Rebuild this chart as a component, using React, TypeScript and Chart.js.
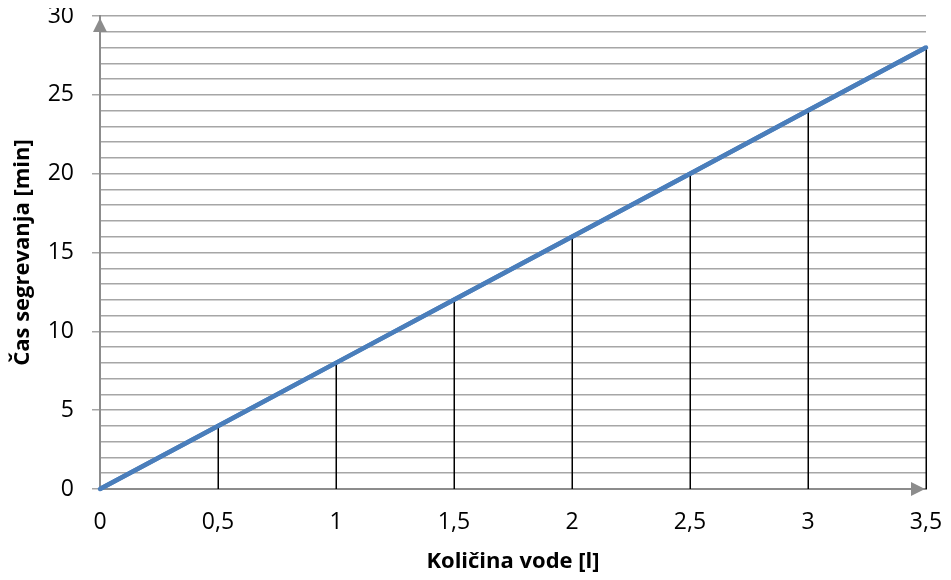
import React, { useEffect, useRef } from "react";
import { Chart, registerables } from "chart.js";

Chart.register(...registerables);

const waterLitres = [0, 0.5, 1, 1.5, 2, 2.5, 3, 3.5];
const heatingMinutes = [0, 4, 8, 12, 16, 20, 24, 28];
const xTitle = "Količina vode [l]";
const yTitle = "Čas segrevanja [min]";

const FONT = "'Open Sans', 'Liberation Sans', sans-serif";
const GRID = "#a6a6a6";
const AXIS = "#8c8c8c";

const extrasPlugin = {
  id: "extras",
  afterDatasetsDraw(chart: any) {
    const { ctx, scales } = chart;
    const xs = scales.x;
    const ys = scales.y;
    const meta = chart.getDatasetMeta(0);
    ctx.save();
    // drop lines
    ctx.strokeStyle = "#000000";
    ctx.lineWidth = 1.5;
    meta.data.forEach((pt: any, i: number) => {
      if (heatingMinutes[i] <= 0) return;
      const px = Math.round(pt.x) + 0.25;
      ctx.beginPath();
      ctx.moveTo(px, pt.y);
      ctx.lineTo(px, ys.getPixelForValue(0));
      ctx.stroke();
    });
    // redraw line on top
    ctx.strokeStyle = "#4a7ebb";
    ctx.lineWidth = 4.5;
    ctx.lineCap = "round";
    ctx.beginPath();
    meta.data.forEach((pt: any, i: number) => {
      if (i === 0) ctx.moveTo(pt.x, pt.y);
      else ctx.lineTo(pt.x, pt.y);
    });
    ctx.stroke();
    // arrows
    ctx.fillStyle = AXIS;
    const ax = xs.getPixelForValue(0);
    const top = ys.getPixelForValue(30);
    ctx.beginPath();
    ctx.moveTo(ax, top + 2);
    ctx.lineTo(ax - 7, top + 16);
    ctx.lineTo(ax + 7, top + 16);
    ctx.closePath();
    ctx.fill();
    const ay = ys.getPixelForValue(0);
    const right = xs.getPixelForValue(3.5);
    ctx.beginPath();
    ctx.moveTo(right - 1, ay);
    ctx.lineTo(right - 15, ay - 7);
    ctx.lineTo(right - 15, ay + 7);
    ctx.closePath();
    ctx.fill();
    ctx.restore();
  },
};

export default function App() {
  const ref = useRef<HTMLCanvasElement | null>(null);
  useEffect(() => {
    if (!ref.current) return;
    const chart = new Chart(ref.current, {
      type: "line",
      data: {
        datasets: [
          {
            data: waterLitres.map((x, i) => ({ x, y: heatingMinutes[i] })),
            borderColor: "#4a7ebb",
            borderWidth: 4.5,
            pointRadius: 0,
            fill: false,
            clip: false as any,
          },
        ],
      },
      options: {
        animation: false,
        responsive: true,
        maintainAspectRatio: false,
        layout: { padding: { top: 16, right: 17, left: 0, bottom: 0 } },
        plugins: { legend: { display: false }, tooltip: { enabled: false } },
        scales: {
          x: {
            type: "linear",
            min: 0,
            max: 3.5,
            afterFit: (s: any) => {
              s.height = 86;
              s.paddingLeft = 0;
              s.paddingRight = 0;
            },
            grid: { display: false, drawTicks: false },
            border: { display: true, color: AXIS, width: 2 },
            ticks: {
              stepSize: 0.5,
              padding: 20,
              color: "#000",
              font: { family: FONT, size: 23 },
              callback: (v: any) => String(v).replace(".", ","),
            },
            title: {
              display: true,
              text: xTitle,
              color: "#000",
              font: { family: FONT, size: 22, weight: "bold" },
              padding: { top: 6, bottom: 0 },
            },
          },
          y: {
            min: 0,
            max: 30,
            afterFit: (s: any) => {
              s.width = 92;
              s.paddingTop = 0;
              s.paddingBottom = 0;
            },
            grid: {
              color: GRID,
              lineWidth: 1.5,
              tickLength: 8,
              tickColor: (c: any) => (c.tick && c.tick.value % 5 === 0 ? GRID : "rgba(0,0,0,0)"),
            },
            border: { display: true, color: AXIS, width: 2 },
            ticks: {
              stepSize: 1,
              autoSkip: false,
              padding: 18,
              color: "#000",
              font: { family: FONT, size: 23 },
              callback: (v: any) => (Number(v) % 5 === 0 ? String(v) : ""),
            },
            title: {
              display: true,
              text: yTitle,
              color: "#000",
              font: { family: FONT, size: 22, weight: "bold" },
              padding: { top: 2, bottom: 4 },
            },
          },
        },
      },
      plugins: [extrasPlugin],
    });
    return () => chart.destroy();
  }, []);
  return (
    <div style={{ width: 935, height: 575, marginTop: -8, position: "relative" }}>
      <canvas ref={ref} />
    </div>
  );
}
